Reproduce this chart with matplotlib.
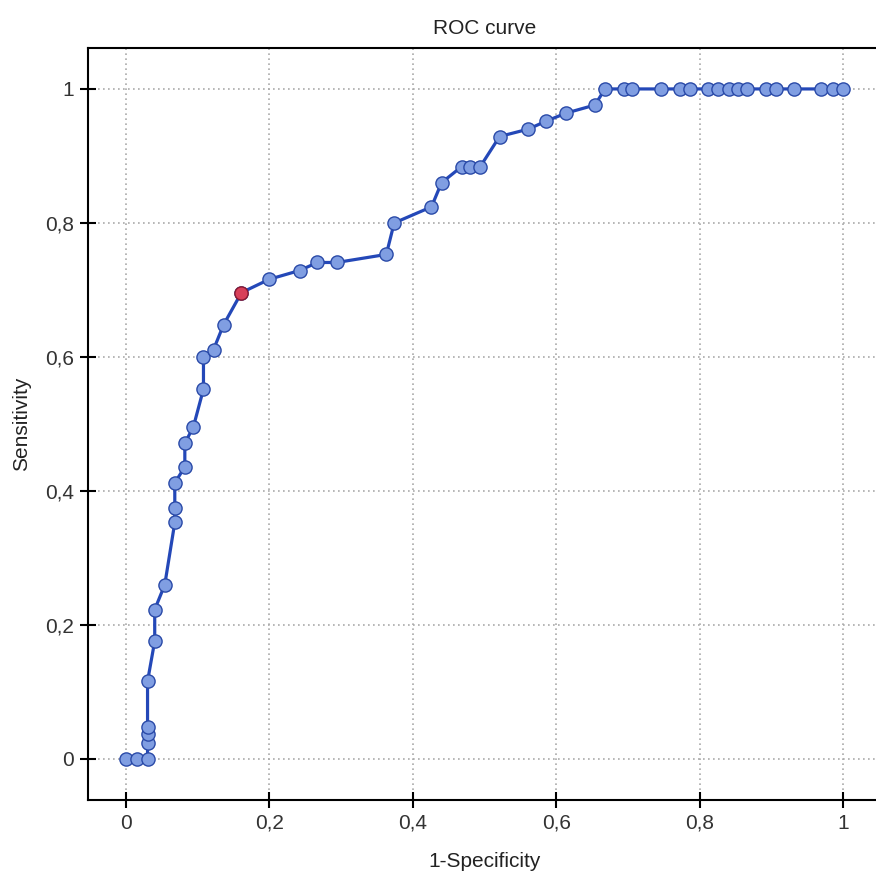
import numpy as np
from matplotlib import pyplot as plt

# ROC curve points (1-specificity, sensitivity)
fpr = [0.0, 0.015, 0.030, 0.030, 0.030, 0.030, 0.030, 0.040, 0.040, 0.054,
       0.068, 0.068, 0.068, 0.082, 0.082, 0.094, 0.108, 0.108, 0.122, 0.136,
       0.161, 0.200, 0.242, 0.267, 0.294, 0.363, 0.374, 0.426, 0.440, 0.468,
       0.480, 0.494, 0.521, 0.561, 0.586, 0.614, 0.654, 0.668, 0.694, 0.705,
       0.746, 0.773, 0.787, 0.811, 0.826, 0.841, 0.854, 0.866, 0.892, 0.907,
       0.931, 0.969, 0.986, 1.0]
tpr = [0.0, 0.0, 0.0, 0.024, 0.037, 0.048, 0.116, 0.176, 0.223, 0.260,
       0.353, 0.375, 0.412, 0.436, 0.471, 0.496, 0.552, 0.600, 0.611, 0.648,
       0.696, 0.716, 0.729, 0.741, 0.741, 0.753, 0.800, 0.824, 0.860, 0.884,
       0.884, 0.884, 0.929, 0.940, 0.952, 0.964, 0.976, 1.0, 1.0, 1.0,
       1.0, 1.0, 1.0, 1.0, 1.0, 1.0, 1.0, 1.0, 1.0, 1.0,
       1.0, 1.0, 1.0, 1.0]
# optimal cut-off point (red)
best_fpr = 0.161
best_tpr = 0.696

ticks = [0, 0.2, 0.4, 0.6, 0.8, 1]
tick_labels = ["0", "0,2", "0,4", "0,6", "0,8", "1"]

plt.rcParams['font.family'] = ['Liberation Sans', 'DejaVu Sans']

fig = plt.figure(figsize=(8.76, 8.74), dpi=100)
ax = fig.add_axes([0.1005, 0.0847, 0.905, 0.860])

ax.plot(fpr, tpr, color='#2448b8', linewidth=2.3, marker='o', markersize=9.5,
        markerfacecolor='#809ee2', markeredgecolor='#2a4aa8', markeredgewidth=1.0,
        zorder=3)
ax.plot([best_fpr], [best_tpr], linestyle='none', marker='o', markersize=9.5,
        markerfacecolor='#d8405a', markeredgecolor='#8a1a30', markeredgewidth=1.0,
        zorder=4)

ax.set_xlim(-0.053, 1.0527)
ax.set_ylim(-0.0612, 1.0606)
ax.set_xticks(ticks)
ax.set_xticklabels(tick_labels)
ax.set_yticks(ticks)
ax.set_yticklabels(tick_labels)
ax.tick_params(direction='inout', length=12, width=1.5, labelsize=15,
               colors='black', labelcolor='#333333', pad=4)
ax.grid(True, linestyle=(0, (1, 2)), color='#aaaaaa', linewidth=1.2)
ax.set_axisbelow(True)

for side in ['left', 'bottom', 'top']:
    ax.spines[side].set_linewidth(1.5)
ax.spines['right'].set_visible(False)

ax.set_title("ROC curve", fontsize=15, color='#222222', pad=10)
ax.set_xlabel("1-Specificity", fontsize=15, color='#222222', labelpad=14)
ax.set_ylabel("Sensitivity", fontsize=15, color='#222222', labelpad=10)

plt.savefig('out.png', dpi=100)
